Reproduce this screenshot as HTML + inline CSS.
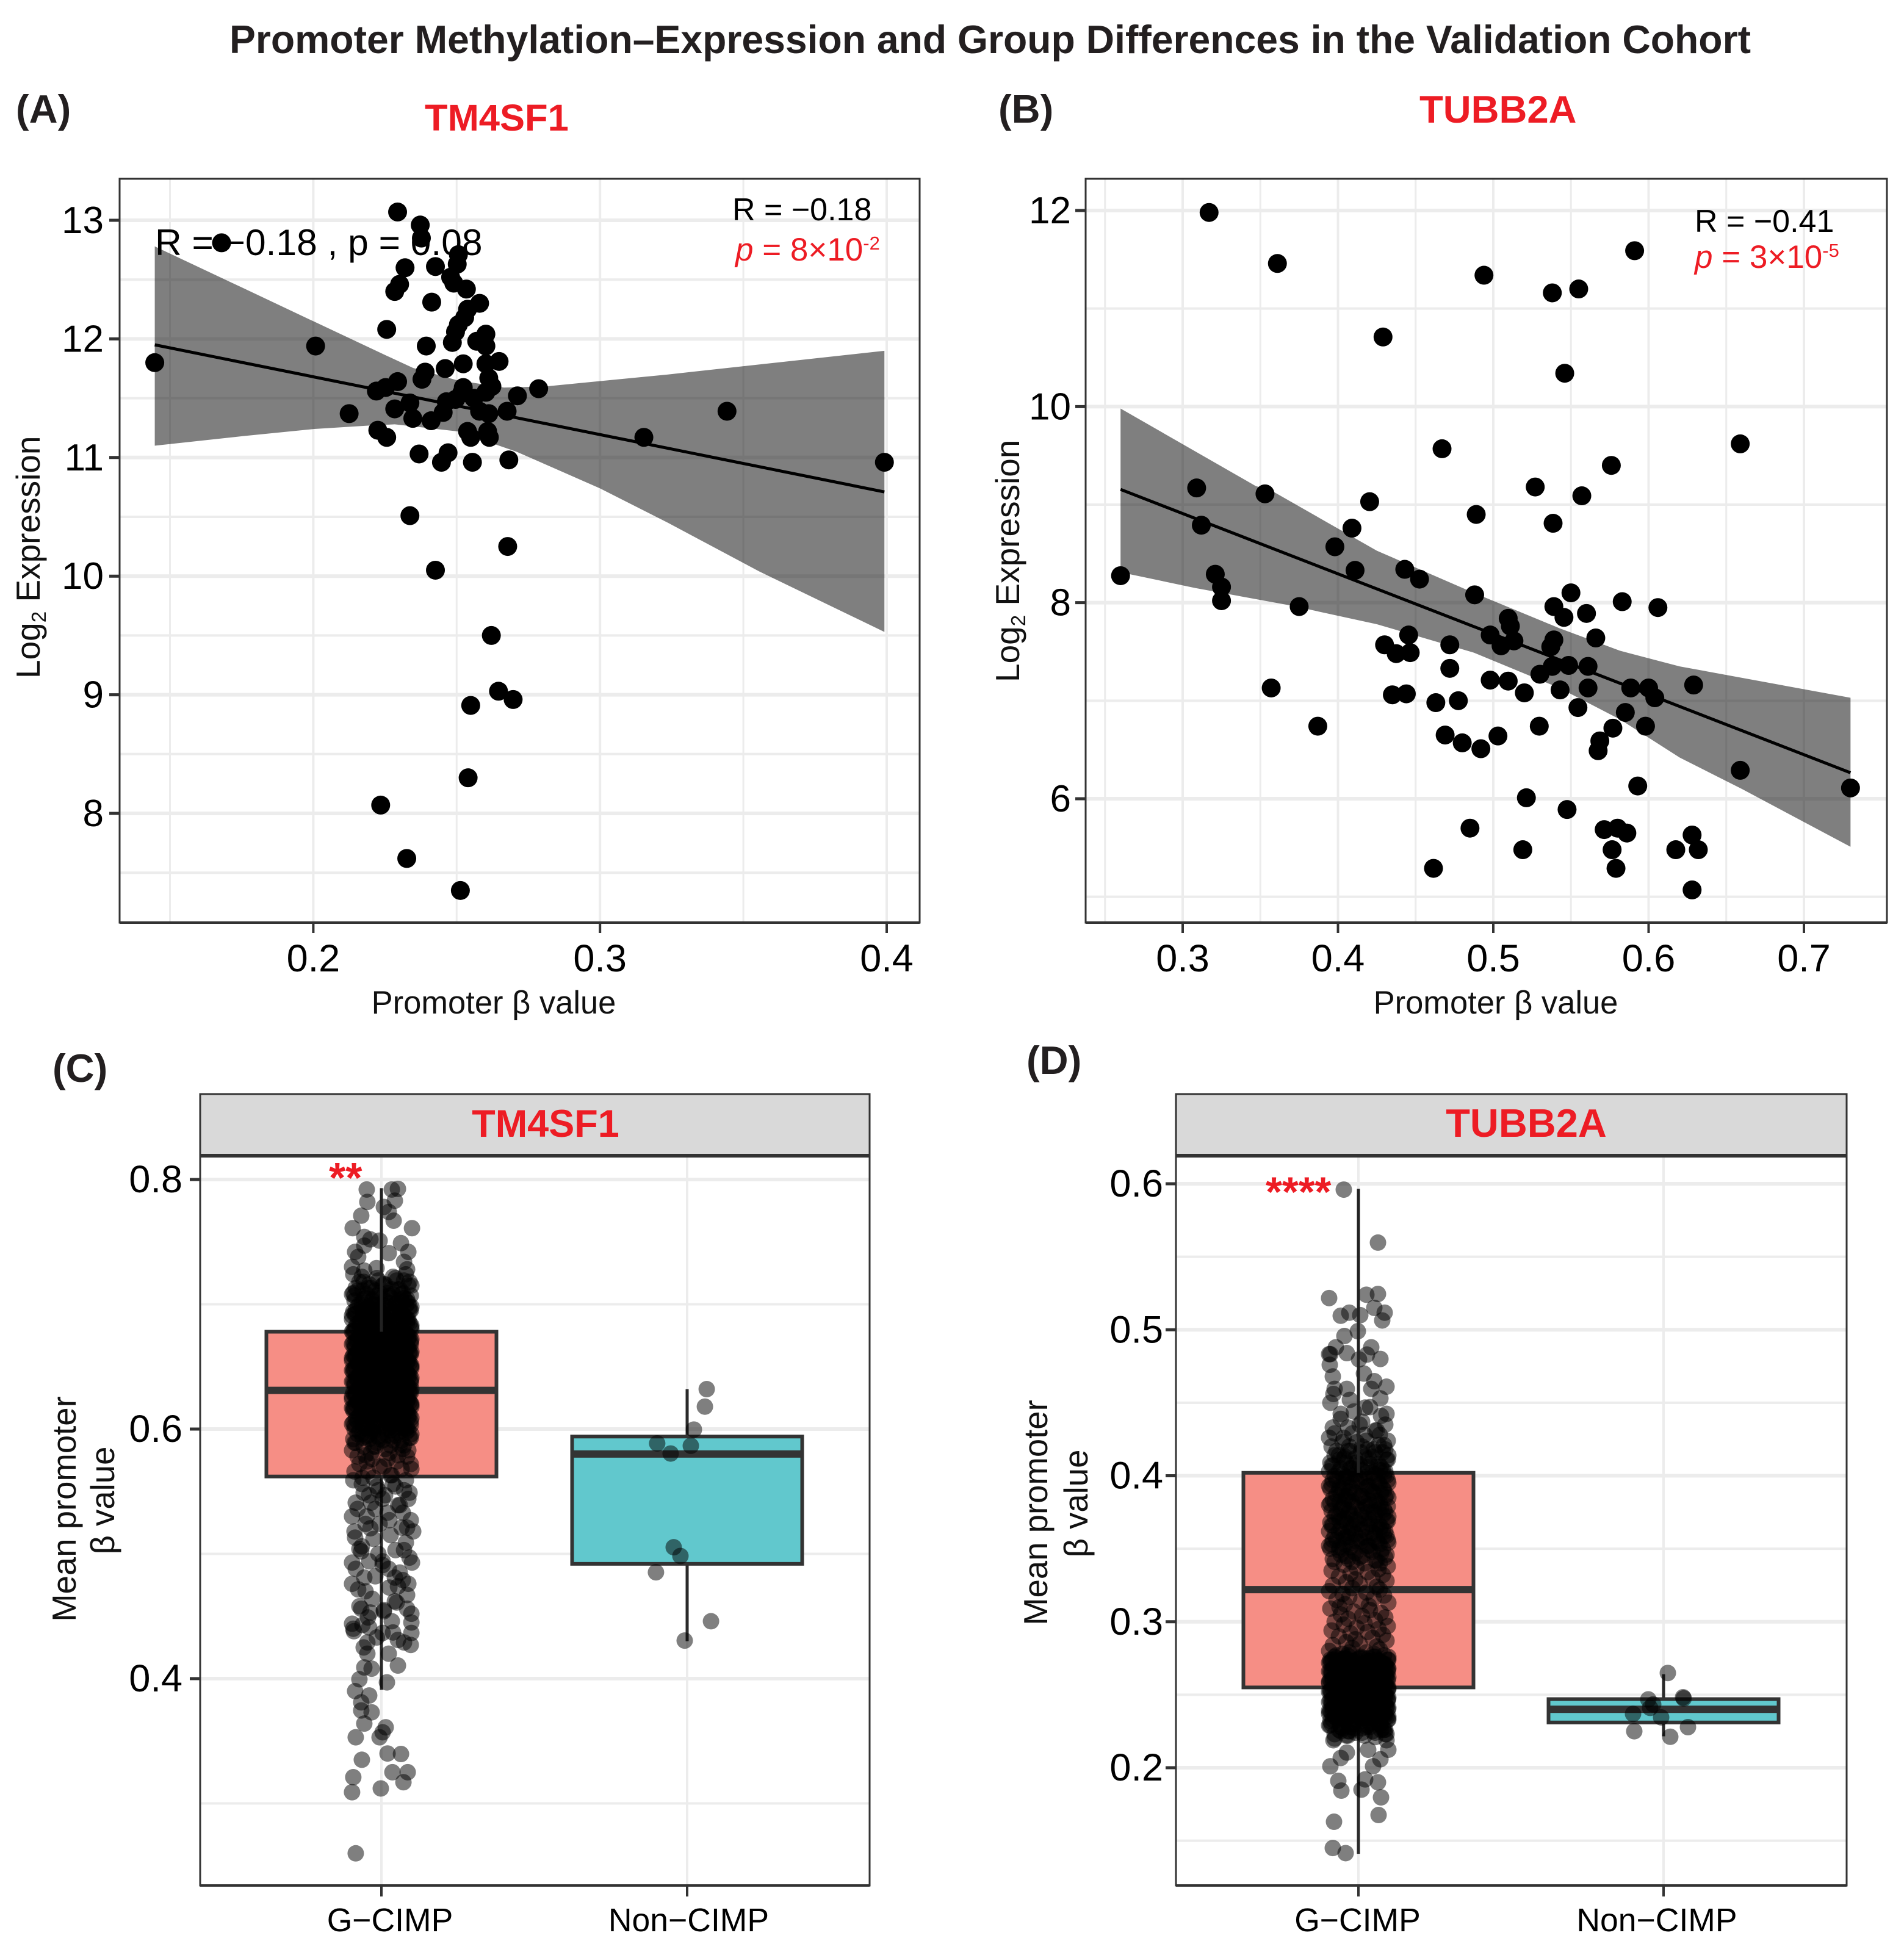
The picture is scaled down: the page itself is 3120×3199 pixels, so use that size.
<!DOCTYPE html>
<html lang="en">
<head>
<meta charset="utf-8">
<title>Promoter Methylation–Expression and Group Differences in the Validation Cohort</title>
<style>
html,body{margin:0;padding:0;background:#fff;}
svg{display:block;font-family:"Liberation Sans",sans-serif;}
</style>
</head>
<body>
<svg id="figure" xmlns="http://www.w3.org/2000/svg" width="3120" height="3199" viewBox="0 0 3120 3199">
  <rect x="0" y="0" width="3120" height="3199" fill="#ffffff"/>
  <g id="layer-marks"></g>
  <text x="376" y="87" font-size="65" font-weight="700" fill="#231f20" textLength="2493" lengthAdjust="spacingAndGlyphs">Promoter Methylation–Expression and Group Differences in the Validation Cohort</text>
  <text x="26" y="201" font-size="65" font-weight="700" fill="#231f20">(A)</text>
  <text x="1636" y="201" font-size="65" font-weight="700" fill="#231f20">(B)</text>
  <text x="86" y="1773" font-size="65" font-weight="700" fill="#231f20">(C)</text>
  <text x="1682" y="1760" font-size="65" font-weight="700" fill="#231f20">(D)</text>
  <text x="696" y="214" font-size="61.5" font-weight="700" fill="#ed1c24">TM4SF1</text>
  <text x="2326" y="201" font-size="63.5" font-weight="700" fill="#ed1c24">TUBB2A</text>
  <text x="254" y="418" font-size="60.5" fill="#000">R = −0.18 , p = 0.08</text>
  <text x="1200" y="361" font-size="52" fill="#000">R = −0.18</text>
  <text x="1205" y="427" font-size="53" fill="#ed1c24"><tspan font-style="italic">p</tspan> = 8×10<tspan font-size="31" dy="-18">-2</tspan></text>
  <text x="2777" y="380" font-size="52" fill="#000">R = −0.41</text>
  <text x="2777" y="439" font-size="53" fill="#ed1c24"><tspan font-style="italic">p</tspan> = 3×10<tspan font-size="31" dy="-18">-5</tspan></text>
  <text transform="translate(65,1112) rotate(-90)" font-size="55" fill="#111">Log<tspan font-size="33" dy="10">2</tspan><tspan dy="-10"> Expression</tspan></text>
  <text transform="translate(1670,1118) rotate(-90)" font-size="55" fill="#111">Log<tspan font-size="33" dy="10">2</tspan><tspan dy="-10"> Expression</tspan></text>
  <text x="809" y="1661" font-size="52.5" fill="#111" text-anchor="middle">Promoter β value</text>
  <text x="2451" y="1661" font-size="52.5" fill="#111" text-anchor="middle">Promoter β value</text>
  <text transform="translate(124,2473) rotate(-90)" font-size="54.5" fill="#111" text-anchor="middle">Mean promoter</text>
  <text transform="translate(187,2459) rotate(-90)" font-size="54.5" fill="#111" text-anchor="middle">β value</text>
  <text transform="translate(1716,2479) rotate(-90)" font-size="54.5" fill="#111" text-anchor="middle">Mean promoter</text>
  <text transform="translate(1782,2464) rotate(-90)" font-size="54.5" fill="#111" text-anchor="middle">β value</text>
  <text x="539" y="1954" font-size="70" font-weight="700" fill="#ed1c24">**</text>
  <text x="2074" y="1977" font-size="69" font-weight="700" fill="#ed1c24">****</text>
</svg>
<script>
/* ---------- Panel A data: TM4SF1 scatter ---------- */
const tm4sf1Beta = [.2294,.2373,.2377,.168,.2506,.2502,.232,.2426,.2479,.249,.2301,.2284,.2534,.258,.2413,.2538,.2528,.2506,.2496,.2256,.2602,.257,.2485,.2602,.2394,.2008,.1447,.2648,.2602,.2523,.246,.239,.2379,.2294,.2252,.222,.2612,.2623,.2602,.2523,.2517,.2786,.2712,.256,.2464,.2496,.2337,.2284,.2453,.258,.2612,.2676,.3443,.2125,.2347,.2411,.2538,.2225,.2256,.2549,.2608,.2614,.3153,.2369,.247,.2447,.2555,.2682,.3992,.2337,.2678,.2426,.2621,.2646,.2697,.2549,.254,.2235,.2326,.2513];
const tm4sf1Expr = [13.07,12.96,12.85,12.81,12.71,12.63,12.60,12.61,12.52,12.47,12.46,12.40,12.42,12.30,12.31,12.25,12.18,12.12,12.06,12.08,12.04,11.98,11.97,11.94,11.94,11.94,11.80,11.81,11.79,11.79,11.75,11.72,11.66,11.64,11.59,11.56,11.67,11.60,11.55,11.59,11.54,11.58,11.52,11.50,11.47,11.49,11.46,11.41,11.38,11.39,11.37,11.39,11.39,11.37,11.33,11.31,11.22,11.23,11.17,11.17,11.22,11.17,11.17,11.03,11.04,10.96,10.96,10.98,10.96,10.51,10.25,10.05,9.50,9.03,8.96,8.91,8.30,8.07,7.62,7.35];
const tm4sf1FitBeta = [.1447,.3992];
const tm4sf1FitExpr = [11.95,10.71];
const tm4sf1RibbonUpperBeta = [.1447,.1754,.2008,.2263,.2348,.2504,.2665,.2814,.3237,.3992];
const tm4sf1RibbonUpper = [12.78,12.43,12.14,11.85,11.755,11.65,11.59,11.60,11.70,11.90];
const tm4sf1RibbonLowerBeta = [.1447,.1754,.20,.22,.2284,.2504,.2708,.30,.3237,.3555,.3992];
const tm4sf1RibbonLower = [11.10,11.18,11.24,11.27,11.28,11.22,11.05,10.74,10.45,10.04,9.53];
const tm4sf1XMajor = [0.2,0.3,0.4];
const tm4sf1XMinor = [0.15,0.25,0.35];
const tm4sf1YMajor = [13,12,11,10,9,8];
const tm4sf1YMinor = [12.5,11.5,10.5,9.5,8.5,7.5];

/* ---------- Panel B data: TUBB2A scatter ---------- */
const tubb2aBeta = [.317,.361,.494,.538,.555,.591,.429,.546,.467,.659,.576,.527,.557,.309,.353,.4204,.489,.5385,.312,.409,.398,.411,.443,.4525,.260,.321,.325,.325,.375,.488,.550,.583,.606,.539,.5455,.560,.5096,.511,.566,.4455,.498,.5133,.505,.539,.537,.430,.472,.4375,.4465,.472,.5485,.538,.561,.530,.498,.5096,.5885,.600,.604,.543,.561,.629,.357,.435,.444,.520,.463,.4775,.5545,.585,.387,.5296,.577,.598,.469,.503,.480,.492,.5686,.5675,.659,.730,.593,.5213,.5475,.485,.5714,.580,.586,.628,.5765,.519,.6175,.632,.4615,.579,.628];
const tubb2aExpr = [11.98,11.46,11.34,11.16,11.2,11.59,10.71,10.34,9.57,9.62,9.40,9.18,9.09,9.17,9.11,9.03,8.90,8.81,8.79,8.76,8.57,8.33,8.34,8.24,8.275,8.29,8.16,8.02,7.96,8.08,8.10,8.01,7.95,7.96,7.85,7.89,7.84,7.76,7.64,7.67,7.67,7.61,7.56,7.62,7.55,7.57,7.57,7.48,7.49,7.33,7.36,7.35,7.35,7.27,7.21,7.20,7.13,7.13,7.03,7.11,7.13,7.16,7.13,7.06,7.07,7.08,6.98,7.0,6.93,6.88,6.74,6.74,6.72,6.74,6.65,6.64,6.57,6.51,6.59,6.49,6.29,6.11,6.13,6.01,5.89,5.70,5.685,5.70,5.65,5.63,5.48,5.48,5.48,5.48,5.29,5.29,5.07];
const tubb2aFitBeta = [.26,.73];
const tubb2aFitExpr = [9.155,6.265];
const tubb2aRibbonUpperBeta = [.26,.347,.3575,.425,.4875,.5425,.5815,.62,.73];
const tubb2aRibbonUpper = [9.98,9.19,9.14,8.53,8.10,7.74,7.51,7.35,7.03];
const tubb2aRibbonLowerBeta = [.26,.308,.37,.425,.4875,.5425,.5815,.62,.66,.73];
const tubb2aRibbonLower = [8.31,8.15,7.97,7.78,7.49,7.13,6.81,6.42,6.10,5.51];
const tubb2aXMajor = [0.3,0.4,0.5,0.6,0.7];
const tubb2aXMinor = [0.25,0.35,0.45,0.55,0.65];
const tubb2aYMajor = [12,10,8,6];
const tubb2aYMinor = [11,9,7,5];

/* ---------- Shared categories ---------- */
const groupCategories = ['G−CIMP','Non−CIMP'];
const denseJitter = [-92,38,-15,74,-58,12,88,-34,55,-78,20,-48,96,-6,66,-88,30,-26,80,-64,46,-10,92,-40,4,-84,60,-20,70,-96,26,-52,84,-30,50,-72,8,98,-44,34,-62];

/* ---------- Panel C data: TM4SF1 box + jitter ---------- */
const cBoxQ1 = [.562,.492];
const cBoxMedian = [.631,.58];
const cBoxQ3 = [.678,.594];
const cWhiskerLow = [.391,.43];
const cWhiskerHigh = [.793,.632];
const cYMajor = [0.8,0.6,0.4];
const cYMinor = [0.7,0.5,0.3];
const cGcimpValues = [.792,.7925,.792,.783,.782,.778,.774,.771,.767,.761,.761,.754,.751,.752,.749,.742,.747,.742,.741,.738,.734,.730,.729,.728,.727,.26,.309,.321,.312,.317,.325,.325,.335,.340,.3396,.353,.353,.357,.361,.364,.373,.3745,.381,.3865,.390,.3995,.397,.409,.408,.4105,.420,.420,.429,.427,.431,.4366,.4366,.438,.444,.445,.441,.454,.456,.456,.453,.462,.4715,.476,.481,.481,.474,.493,.493,.494,.488,.502,.504,.513,.503,.518,.5205];
const cGcimpJitter = [-48,54,34,44,-46,8,24,-66,40,-94,100,-56,-6,-36,64,-86,-56,88,24,-76,74,-96,-16,84,-56,-84,-96,-92,-2,72,36,86,-64,20,64,-84,-6,4,14,-56,-32,-66,-66,-40,-86,-72,18,-56,-32,54,24,-46,-46,96,54,4,98,-90,-96,98,-40,8,84,-66,-36,44,-76,88,-56,44,54,-96,100,4,24,-66,-72,-86,74,104,-36];
const cGcimpDense = [.724,.722,.721,.719,.718,.716,.715,.713,.712,.711,.709,.708,.707,.705,.704,.703,.701,.700,.699,.698,.697,.696,.695,.694,.693,.692,.691,.690,.689,.688,.687,.686,.685,.684,.683,.682,.681,.680,.679,.678,.677,.677,.676,.675,.674,.674,.673,.672,.671,.671,.670,.669,.668,.668,.667,.666,.665,.665,.664,.663,.662,.662,.661,.660,.659,.659,.658,.657,.656,.656,.655,.654,.653,.653,.652,.651,.650,.650,.649,.648,.647,.647,.646,.645,.644,.644,.643,.642,.641,.641,.640,.639,.638,.638,.637,.636,.635,.635,.634,.633,.632,.632,.631,.630,.629,.629,.628,.627,.626,.626,.625,.624,.623,.623,.622,.621,.620,.620,.619,.618,.617,.617,.616,.615,.614,.613,.612,.611,.610,.609,.608,.607,.606,.605,.604,.603,.602,.601,.600,.599,.598,.597,.596,.595,.594,.593,.592,.591,.589,.587,.586,.584,.583,.581,.579,.578,.576,.574,.572,.570,.568,.566,.563,.561,.559,.556,.554,.551,.549,.547,.544,.541,.539,.536,.533,.530,.527,.524,.521,.518,.515,.512,.509,.506,.503,.500,.497,.494,.491,.488,.485,.482,.479,.476,.473,.470,.467,.464,.461,.458,.455,.452,.449,.446,.443,.440,.437,.433,.429,.425];
const cCoreBands = [[.52,.725],[.585,.72],[.60,.71]];
const cNonValues = [.632,.618,.5996,.5885,.5866,.5804,.5053,.4983,.4852,.446,.4305];
const cNonJitter = [64,58,22,-98,12,-54,-44,-22,-102,78,-8];

/* ---------- Panel D data: TUBB2A box + jitter ---------- */
const dBoxQ1 = [.255,.231];
const dBoxMedian = [.322,.240];
const dBoxQ3 = [.402,.247];
const dWhiskerLow = [.141,.2215];
const dWhiskerHigh = [.5965,.264];
const dYMajor = [0.6,0.5,0.4,0.3,0.2];
const dYMinor = [0.55,0.45,0.35,0.25,0.15];
const dGcimpValues = [.596,.5597,.5217,.524,.5245,.515,.5117,.5096,.51,.5117,.5064,.499,.4957,.488,.488,.4833,.4833,.484,.483,.480,.4797,.476,.470,.468,.4648,.461,.4595,.456,.4595,.4595,.453,.452,.4424,.4424,.4467,.1415,.145,.163,.1676,.1797,.1843,.191,.185,.19,.192,.201,.201,.2067,.2058,.2104,.2123,.2123,.2188,.2188];
const dGcimpJitter = [-48,64,-96,26,64,52,-30,-58,6,86,78,-2,-46,-74,42,-96,-92,-38,28,72,2,-94,18,-84,52,92,-78,-82,-38,42,72,-28,92,-58,22,-42,-84,-80,66,74,-56,-66,10,64,22,-92,48,-58,72,-38,98,32,92,-82];
const dGcimpDense = [.450,.447,.444,.441,.439,.437,.435,.433,.431,.429,.428,.426,.424,.423,.421,.420,.418,.417,.416,.414,.413,.412,.411,.409,.408,.407,.406,.405,.404,.403,.402,.401,.400,.399,.398,.397,.396,.395,.394,.393,.392,.391,.390,.389,.388,.387,.386,.385,.384,.383,.382,.381,.380,.379,.378,.377,.376,.375,.374,.373,.372,.371,.370,.369,.368,.367,.366,.365,.364,.363,.362,.361,.360,.359,.358,.357,.356,.355,.354,.353,.352,.351,.350,.349,.348,.347,.346,.345,.344,.343,.342,.341,.340,.339,.338,.337,.336,.335,.334,.333,.332,.331,.330,.329,.328,.327,.326,.325,.324,.323,.322,.321,.320,.319,.318,.317,.316,.315,.314,.313,.312,.311,.310,.309,.308,.307,.306,.305,.304,.303,.302,.301,.300,.299,.298,.297,.296,.295,.294,.293,.292,.291,.290,.289,.288,.287,.286,.285,.284,.283,.282,.281,.280,.279,.278,.277,.276,.276,.275,.275,.274,.274,.273,.273,.272,.272,.271,.271,.270,.270,.269,.269,.268,.268,.267,.267,.266,.266,.265,.265,.264,.264,.263,.263,.262,.262,.261,.261,.260,.260,.259,.259,.258,.258,.257,.257,.256,.256,.255,.255,.254,.254,.253,.253,.252,.252,.251,.251,.250,.250,.249,.249,.248,.248,.247,.247,.246,.246,.245,.245,.244,.244,.243,.243,.242,.242,.241,.241,.240,.240,.239,.239,.238,.238,.237,.237,.236,.236,.235,.235,.234,.234,.233,.232,.231,.230,.229,.228,.227,.226,.225,.224,.223,.222,.221,.220];
const dCoreBands = [[.34,.435],[.35,.42],[.222,.279],[.222,.277],[.225,.275]];
const dNonValues = [.2649,.2468,.2483,.2434,.2369,.2345,.225,.2278,.2212,.2475,.241];
const dNonJitter = [14,-50,64,-34,-100,-8,-96,80,22,66,-44];

/* ---------- Drawing helpers ---------- */
const NS = 'http://www.w3.org/2000/svg';
const marks = document.getElementById('layer-marks');
const GRID = '#ececec', INK = '#333333';

function linearAxis(v0, p0, v1, p1) {
  const k = (p1 - p0) / (v1 - v0);
  return function (v) { return p0 + (v - v0) * k; };
}
function shape(tag, attrs, parent) {
  const el = document.createElementNS(NS, tag);
  Object.keys(attrs).forEach(function (k) { el.setAttribute(k, attrs[k]); });
  (parent || marks).appendChild(el);
  return el;
}
function newGroup(name) {
  const g = shape('g', {});
  
  
  return g;
}
function drawGridAndFrame(p, g) {
  p.yMinor.forEach(function (v) {
    const l = shape('line', {x1:p.left, x2:p.right, y1:p.y(v), y2:p.y(v), stroke:GRID, 'stroke-width':p.yMinorW}, g);
    
    
  });
  p.xMinor.forEach(function (v) {
    const l = shape('line', {x1:p.x(v), x2:p.x(v), y1:p.top, y2:p.bottom, stroke:GRID, 'stroke-width':3}, g);
    
    
  });
  p.yMajor.forEach(function (v) {
    const l = shape('line', {x1:p.left, x2:p.right, y1:p.y(v), y2:p.y(v), stroke:GRID, 'stroke-width':6}, g);
    
    
  });
  p.xMajor.forEach(function (v) {
    const l = shape('line', {x1:p.x(v), x2:p.x(v), y1:p.top, y2:p.bottom, stroke:GRID, 'stroke-width':4}, g);
    
    
  });
}
function drawAxes(p, g) {
  const fr = shape('rect', {x:p.left, y:p.top, width:p.right-p.left, height:p.bottom-p.top, fill:'none', stroke:INK, 'stroke-width':3}, g);
  
  
  const bl = shape('line', {x1:p.left, x2:p.right, y1:p.bottom, y2:p.bottom, stroke:INK, 'stroke-width':4}, g);
  
  
  p.yMajor.forEach(function (v) {
    const t = shape('line', {x1:p.left-17, x2:p.left, y1:p.y(v), y2:p.y(v), stroke:INK, 'stroke-width':5}, g);
    
    
    const lab = shape('text', {x:p.left-p.yLabelGap, y:p.y(v)+21, 'font-size':p.yLabelSize, fill:'#000', 'text-anchor':'end'}, g);
    
    
    lab.textContent = p.yFormat(v);
  });
}
function drawScatter(p, cfg) {
  const g = newGroup(cfg.name);
  drawGridAndFrame(p, g);
  const upper = cfg.upperX.map(function (b, i) { return p.x(b) + ',' + p.y(cfg.upper[i]); });
  const lower = cfg.lowerX.map(function (b, i) { return p.x(b) + ',' + p.y(cfg.lower[i]); }).reverse();
  const rib = shape('polygon', {points:upper.concat(lower).join(' '), fill:'#000', 'fill-opacity':0.5}, g);
  
  
  const fit = shape('line', {x1:p.x(cfg.fitX[0]), y1:p.y(cfg.fitY[0]), x2:p.x(cfg.fitX[1]), y2:p.y(cfg.fitY[1]), stroke:'#000', 'stroke-width':5}, g);
  
  
  cfg.beta.forEach(function (b, i) {
    const c = shape('circle', {cx:p.x(b), cy:p.y(cfg.expr[i]), r:15.5, fill:'#000'}, g);
    
    
  });
  drawAxes(p, g);
  p.xMajor.forEach(function (v) {
    const t = shape('line', {x1:p.x(v), x2:p.x(v), y1:p.bottom, y2:p.bottom+17, stroke:INK, 'stroke-width':4}, g);
    
    
    const lab = shape('text', {x:p.x(v), y:1592, 'font-size':63, fill:'#000', 'text-anchor':'middle'}, g);
    
    
    lab.textContent = v.toFixed(1);
  });
}
function drawBoxPanel(p, cfg) {
  const g = newGroup(cfg.name);
  drawGridAndFrame(p, g);
  const cx = function (i) { return p.catX[i]; };
  const fills = ['#f68e85','#61c8cd'];
  groupCategories.forEach(function (cat, i) {
    const w = shape('line', {x1:cx(i), x2:cx(i), y1:p.y(cfg.high[i]), y2:p.y(cfg.low[i]), stroke:'#2b2b2b', 'stroke-width':5}, g);
    
    
    const b = shape('rect', {x:cx(i)-p.boxHalf, width:p.boxHalf*2, y:p.y(cfg.q3[i]), height:p.y(cfg.q1[i])-p.y(cfg.q3[i]), fill:fills[i], stroke:'#333', 'stroke-width':6}, g);
    
    
    const m = shape('line', {x1:cx(i)-p.boxHalf, x2:cx(i)+p.boxHalf, y1:p.y(cfg.med[i]), y2:p.y(cfg.med[i]), stroke:'#333', 'stroke-width':12}, g);
    
    
  });
  function jitterDot(i, v, j) {
    const c = shape('circle', {cx:cx(i) + j / 1000 * p.catStep, cy:p.y(v), r:13.5, fill:'#000', 'fill-opacity':0.5}, g);
    
    
  }
  cfg.dense.forEach(function (v, k) { jitterDot(0, v, denseJitter[k % denseJitter.length]); });
  /* overplotted samples: each band repeats the dense values with a different jitter phase */
  cfg.bands.forEach(function (band, b) {
    cfg.dense.forEach(function (v, k) {
      if (v >= band[0] && v <= band[1]) {
        jitterDot(0, v, denseJitter[(k + 13 * (b + 1) + 5) % denseJitter.length]);
      }
    });
  });
  cfg.gValues.forEach(function (v, k) { jitterDot(0, v, cfg.gJitter[k]); });
  cfg.nValues.forEach(function (v, k) { jitterDot(1, v, cfg.nJitter[k]); });
  /* re-stroke the upper whisker over the sparse dots */
  const top = shape('line', {x1:cx(0), x2:cx(0), y1:p.y(cfg.high[0]), y2:p.y(cfg.q3[0]), stroke:'#222', 'stroke-width':5}, g);
  
  
  drawAxes(p, g);
  const strip = shape('rect', {x:p.left, y:1793, width:p.right-p.left, height:101, fill:'#d9d9d9', stroke:INK, 'stroke-width':3}, g);
  
  
  const sl = shape('line', {x1:p.left, x2:p.right, y1:1894, y2:1894, stroke:INK, 'stroke-width':6}, g);
  
  
  const st = shape('text', {x:cfg.stripX, y:1863, 'font-size':cfg.stripSize, 'font-weight':700, fill:'#ed1c24', 'text-anchor':'middle'}, g);
  
  
  st.textContent = cfg.gene;
  groupCategories.forEach(function (cat, i) {
    const t = shape('line', {x1:cx(i), x2:cx(i), y1:p.bottom, y2:p.bottom+18, stroke:INK, 'stroke-width':4}, g);
    
    
    const lab = shape('text', {x:cx(i)+cfg.labelShift[i], y:3165, 'font-size':53.5, fill:'#000', 'text-anchor':'middle'}, g);
    
    
    lab.textContent = cat;
  });
}

/* ---------- Panels ---------- */
drawScatter({
  left:196, right:1507, top:293, bottom:1512, yLabelGap:26, yLabelSize:62, yMinorW:4,
  x:linearAxis(0.2,513.4,0.4,1453), y:linearAxis(13,361,8,1333),
  xMajor:tm4sf1XMajor, xMinor:tm4sf1XMinor, yMajor:tm4sf1YMajor, yMinor:tm4sf1YMinor,
  yFormat:function(v){return String(v);}
},{
  name:'panel-a-tm4sf1-scatter', beta:tm4sf1Beta, expr:tm4sf1Expr, fitX:tm4sf1FitBeta, fitY:tm4sf1FitExpr,
  upperX:tm4sf1RibbonUpperBeta, upper:tm4sf1RibbonUpper, lowerX:tm4sf1RibbonLowerBeta, lower:tm4sf1RibbonLower
});
drawScatter({
  left:1779, right:3092, top:293, bottom:1512, yLabelGap:24, yLabelSize:62, yMinorW:4,
  x:linearAxis(0.3,1938,0.7,2956), y:linearAxis(12,345,6,1309),
  xMajor:tubb2aXMajor, xMinor:tubb2aXMinor, yMajor:tubb2aYMajor, yMinor:tubb2aYMinor,
  yFormat:function(v){return String(v);}
},{
  name:'panel-b-tubb2a-scatter', beta:tubb2aBeta, expr:tubb2aExpr, fitX:tubb2aFitBeta, fitY:tubb2aFitExpr,
  upperX:tubb2aRibbonUpperBeta, upper:tubb2aRibbonUpper, lowerX:tubb2aRibbonLowerBeta, lower:tubb2aRibbonLower
});
drawBoxPanel({
  left:328, right:1425, top:1893, bottom:3090, yLabelGap:29, yLabelSize:63, yMinorW:4,
  x:function(v){return v;}, y:linearAxis(0.8,1933,0.4,2751),
  xMajor:[625,1126], xMinor:[], yMajor:cYMajor, yMinor:cYMinor,
  yFormat:function(v){return v.toFixed(1);},
  catX:[625,1126], catStep:501, boxHalf:188.5
},{
  name:'panel-c-tm4sf1-boxplot', gene:'TM4SF1', stripX:894, stripSize:63, labelShift:[14,2.5],
  q1:cBoxQ1, med:cBoxMedian, q3:cBoxQ3, low:cWhiskerLow, high:cWhiskerHigh, bands:cCoreBands,
  dense:cGcimpDense, gValues:cGcimpValues, gJitter:cGcimpJitter, nValues:cNonValues, nJitter:cNonJitter
});
drawBoxPanel({
  left:1927, right:3026, top:1893, bottom:3090, yLabelGap:21, yLabelSize:63, yMinorW:4,
  x:function(v){return v;}, y:linearAxis(0.6,1940,0.2,2897),
  xMajor:[2226,2726], xMinor:[], yMajor:dYMajor, yMinor:dYMinor,
  yFormat:function(v){return v.toFixed(1);},
  catX:[2226,2726], catStep:500, boxHalf:188.5
},{
  name:'panel-d-tubb2a-boxplot', gene:'TUBB2A', stripX:2501, stripSize:65, labelShift:[-1.5,-11],
  q1:dBoxQ1, med:dBoxMedian, q3:dBoxQ3, low:dWhiskerLow, high:dWhiskerHigh, bands:dCoreBands,
  dense:dGcimpDense, gValues:dGcimpValues, gJitter:dGcimpJitter, nValues:dNonValues, nJitter:dNonJitter
});
</script>
</body>
</html>
